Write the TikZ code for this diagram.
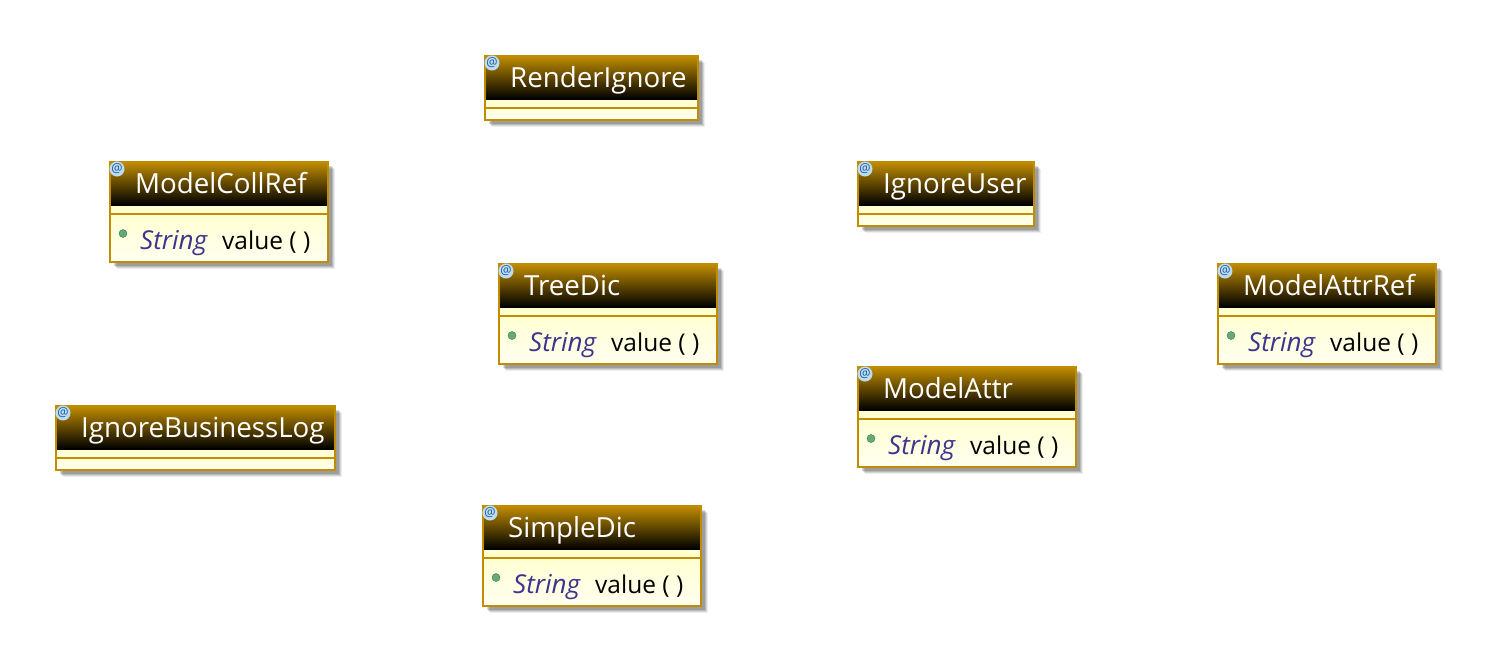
\documentclass[tikz,border=0pt]{standalone}
\usepackage{fontspec}
\setmainfont{Open Sans}
\usetikzlibrary{positioning}
\definecolor{umlgold}{RGB}{192,140,0}
\definecolor{umlbody}{RGB}{255,255,205}
\definecolor{umlbodyb}{RGB}{255,255,240}
\definecolor{umltype}{RGB}{62,52,140}
\definecolor{umldot}{RGB}{98,170,120}
\definecolor{umlat}{RGB}{30,90,160}
\definecolor{umlathalo}{RGB}{190,220,240}
\tikzset{
  x=1pt,y=-1pt,
  umlframe/.style={draw=umlgold,line width=2pt},
  umlhead/.style={top color=umlgold,bottom color=black,draw=none},
  umlsep/.style={draw=umlgold,line width=2pt},
  umltitle/.style={anchor=base west,inner sep=0pt,text=white,font=\fontsize{27.7}{30}\selectfont},
  umlmethod/.style={anchor=base west,inner sep=0pt,text=black,font=\fontsize{24.5}{28}\selectfont},
  umlattype/.style={anchor=base west,inner sep=0pt,text=umltype,font=\fontsize{26}{28}\selectfont\itshape},
  umlatsign/.style={circle,anchor=center,inner sep=0pt,minimum size=12pt,fill=umlathalo,text=umlat,font=\fontsize{12.5}{13}\selectfont},
  umlpoint/.style={circle,inner sep=0pt,minimum size=8pt,fill=umldot,draw=umldot!70!black,line width=.4pt},
}
% #1 id, #2 l, #3 t, #4 r, #5 b, #6 title
\newcommand{\umlbox}[6]{%
  \foreach \s/\o in {7/7,6/10,5/13,4/15}{%
    \fill[black,opacity=\o/100] (#2+\s,#3+\s) rectangle (#4+\s,#5+\s);}
  \fill[top color=umlbody,bottom color=umlbodyb] (#2,#3+43) rectangle (#4,#5);
  \fill[umlhead] (#2,#3) rectangle (#4,#3+43);
  \draw[umlsep] (#2,#3+52) -- (#4,#3+52);
  \node[umlframe,anchor=north west,inner sep=0pt,outer sep=0pt,minimum width=#4pt-#2pt,minimum height=#5pt-#3pt] (#1) at (#2,#3) {};
  \node[umlatsign] (#1at) at (#2+7,#3+7) {@};
  \node[umltitle] (#1title) at (#2+25,#3+31) {#6};
}
% #1 id, #2 l, #3 t
\newcommand{\umlvalue}[3]{%
  \node[umlpoint] (#1dot) at (#2+13,#3+71.5) {};
  \node[umlattype] (#1type) at (#2+30,#3+87) {String};
  \node[umlmethod] (#1meth) at (#2+112,#3+87) {value ( )};
}
\begin{document}
\begin{tikzpicture}
\useasboundingbox[fill=white] (0,0) rectangle (1491,661);
\umlbox{render}{485}{56}{698}{120}{RenderIgnore}
\umlbox{collref}{110}{162}{328}{262}{ModelCollRef}
\umlvalue{collref}{110}{162}
\umlbox{user}{858}{162}{1034}{226}{IgnoreUser}
\umlbox{tree}{499}{264}{717}{364}{TreeDic}
\umlvalue{tree}{499}{264}
\umlbox{attrref}{1218}{264}{1436}{364}{ModelAttrRef}
\umlvalue{attrref}{1218}{264}
\umlbox{attr}{858}{367}{1076}{467}{ModelAttr}
\umlvalue{attr}{858}{367}
\umlbox{blog}{56}{406}{335}{470}{IgnoreBusinessLog}
\umlbox{simple}{483}{506}{701}{606}{SimpleDic}
\umlvalue{simple}{483}{506}
\end{tikzpicture}
\end{document}
